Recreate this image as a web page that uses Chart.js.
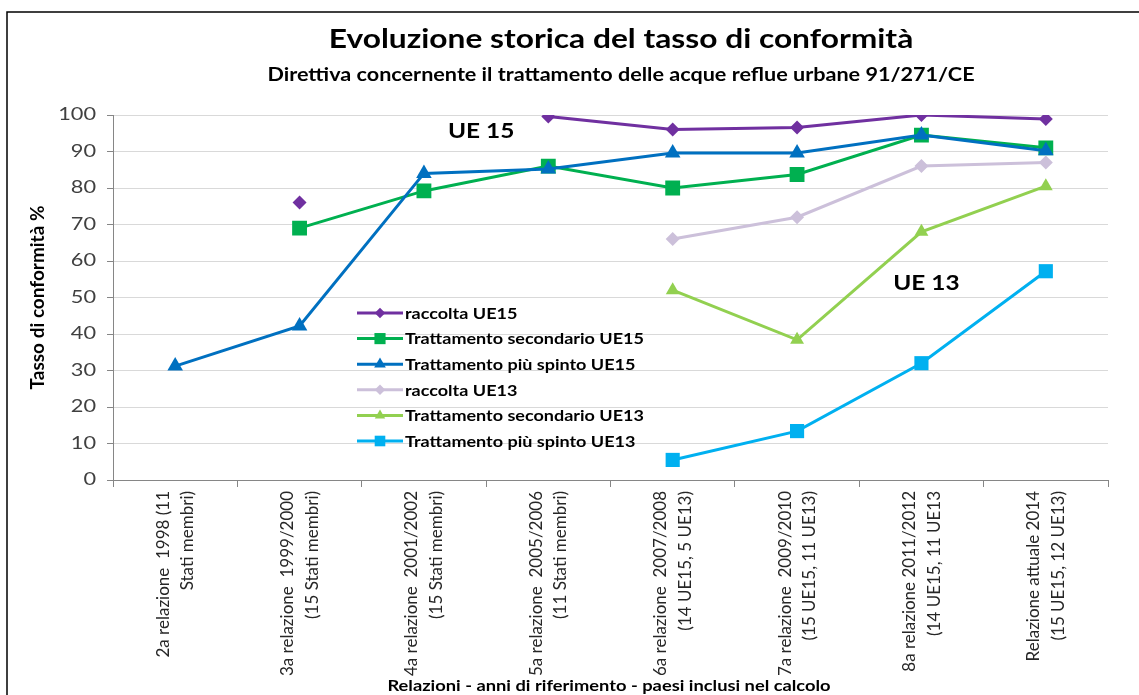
<!DOCTYPE html>
<html>
<head>
<meta charset="utf-8">
<script src="https://cdn.jsdelivr.net/npm/chart.js@4.4.1/dist/chart.umd.min.js"></script>
<style>
  html, body { margin: 0; padding: 0; background: #fff; }
  #wrap { width: 1139px; height: 695px; position: relative; }
</style>
</head>
<body>
<div id="wrap"><canvas id="chart" width="1139" height="695"></canvas></div>
<script>
// categories (rotated x labels, two lines each)
const relazioni = [
  ["2a relazione  1998 (11", "Stati membri)"],
  ["3a relazione  1999/2000", "(15 Stati membri)"],
  ["4a relazione  2001/2002", "(15 Stati membri)"],
  ["5a relazione  2005/2006", "(11 Stati membri)"],
  ["6a relazione  2007/2008", "(14 UE15, 5 UE13)"],
  ["7a relazione  2009/2010", "(15 UE15, 11 UE13)"],
  ["8a relazione 2011/2012", "(14 UE15, 11 UE13"],
  ["Relazione attuale 2014", "(15 UE15, 12 UE13)"]
];

// values (%)
const raccoltaUE15    = [null, 76, null, 99.6, 96, 96.6, 100, 98.9];
const secondarioUE15  = [null, 69, 79.2, 86, 80, 83.7, 94.5, 91];
const spintoUE15      = [31.2, 42.2, 84, 85.2, 89.6, 89.6, 94.5, 90.2];
const raccoltaUE13    = [null, null, null, null, 66, 72, 86, 87];
const secondarioUE13  = [null, null, null, null, 52, 38.4, 68, 80.5];
const spintoUE13      = [null, null, null, null, 5.5, 13.4, 32, 57.2];

const yTicks = [0, 10, 20, 30, 40, 50, 60, 70, 80, 90, 100];

const seriesNames = [
  "raccolta UE15",
  "Trattamento secondario UE15",
  "Trattamento più spinto UE15",
  "raccolta UE13",
  "Trattamento secondario UE13",
  "Trattamento più spinto UE13"
];
const seriesData = [raccoltaUE15, secondarioUE15, spintoUE15, raccoltaUE13, secondarioUE13, spintoUE13];
const seriesColors = ["#7030A0", "#00B050", "#0070C0", "#CCC0DA", "#92D050", "#00B0F0"];
const seriesStyles = ["rectRot", "rect", "triangle", "rectRot", "triangle", "rect"];
const seriesRadius = [7, 10.5, 9, 7, 8, 10];

const FONT = "Lato, 'DejaVu Sans', sans-serif";
const STRETCH = 1.22; // the source picture is stretched horizontally

function marker(ctx, style, x, y, r) {
  ctx.beginPath();
  if (style === "rect") {
    const s = r * Math.SQRT1_2;
    ctx.rect(x - s, y - s, 2 * s, 2 * s);
  } else if (style === "rectRot") {
    ctx.moveTo(x, y - r); ctx.lineTo(x + r, y); ctx.lineTo(x, y + r); ctx.lineTo(x - r, y);
    ctx.closePath();
  } else {
    ctx.moveTo(x, y - r);
    ctx.lineTo(x + r * Math.sin(2 * Math.PI / 3), y - r * Math.cos(2 * Math.PI / 3));
    ctx.lineTo(x + r * Math.sin(4 * Math.PI / 3), y - r * Math.cos(4 * Math.PI / 3));
    ctx.closePath();
  }
  ctx.fill();
}

// text drawn wider than the font, like the original
function wideText(ctx, text, x, y, sx) {
  ctx.save();
  ctx.translate(x, y);
  ctx.scale(sx, 1);
  ctx.fillText(text, 0, 0);
  ctx.restore();
}

// frame, titles, axis titles, y labels, "UE 15"/"UE 13", legend
const decorations = {
  id: "decorations",
  beforeDraw(chart) {
    const ctx = chart.ctx;
    ctx.save();
    ctx.fillStyle = "#fff";
    ctx.fillRect(0, 0, chart.width, chart.height);
    ctx.strokeStyle = "#000";
    ctx.lineWidth = 1.5;
    ctx.beginPath();
    ctx.moveTo(7, chart.height);
    ctx.lineTo(7, 12);
    ctx.lineTo(chart.width, 12);
    ctx.stroke();
    ctx.restore();
  },
  afterDraw(chart) {
    const ctx = chart.ctx;
    const area = chart.chartArea;
    const x = chart.scales.x, y = chart.scales.y;
    ctx.save();
    ctx.fillStyle = "#000";
    ctx.textAlign = "center";
    ctx.textBaseline = "middle";

    ctx.font = "bold 26px " + FONT;
    wideText(ctx, "Evoluzione storica del tasso di conformità", 621, 40, STRETCH);
    ctx.font = "bold 18px " + FONT;
    wideText(ctx, "Direttiva concernente il trattamento delle acque reflue urbane 91/271/CE", 621, 75, 1.2);

    ctx.font = "bold 15px " + FONT;
    wideText(ctx, "Relazioni - anni di riferimento - paesi inclusi nel calcolo", 609, 686, STRETCH);

    ctx.save();
    ctx.translate(38, (area.top + area.bottom) / 2);
    ctx.rotate(-Math.PI / 2);
    ctx.font = "bold 19px " + FONT;
    ctx.fillText("Tasso di conformità %", 0, 0);
    ctx.restore();

    // y tick labels
    ctx.textAlign = "right";
    ctx.fillStyle = "#404040";
    ctx.font = "17px " + FONT;
    yTicks.forEach(v => wideText(ctx, String(v), area.left - 17, y.getPixelForValue(v), 1.28));

    ctx.textAlign = "center";
    ctx.fillStyle = "#000";
    ctx.font = "bold 20px " + FONT;
    wideText(ctx, "UE 15", x.getPixelForValue(2.46), y.getPixelForValue(95.6), STRETCH);
    wideText(ctx, "UE 13", x.getPixelForValue(6.04), y.getPixelForValue(53.7), STRETCH);

    // legend inside the plot area
    ctx.textAlign = "left";
    ctx.font = "bold 15px " + FONT;
    const lx = area.left + 244, ly = area.top + 198, row = 25.6;
    seriesNames.forEach((name, i) => {
      const yy = ly + i * row;
      ctx.strokeStyle = seriesColors[i];
      ctx.fillStyle = seriesColors[i];
      ctx.lineWidth = 3;
      ctx.beginPath();
      ctx.moveTo(lx, yy);
      ctx.lineTo(lx + 46, yy);
      ctx.stroke();
      marker(ctx, seriesStyles[i], lx + 23, yy, seriesRadius[i] * 0.75);
      ctx.fillStyle = "#000";
      wideText(ctx, name, lx + 48, yy + 1, 1.2);
    });
    ctx.restore();
  }
};

new Chart(document.getElementById("chart"), {
  type: "line",
  data: {
    labels: relazioni,
    datasets: seriesNames.map((name, i) => ({
      label: name,
      data: seriesData[i],
      borderColor: seriesColors[i],
      backgroundColor: seriesColors[i],
      borderWidth: 3,
      pointStyle: seriesStyles[i],
      pointRadius: seriesRadius[i],
      pointBorderWidth: 0,
      pointBackgroundColor: seriesColors[i],
      tension: 0,
      spanGaps: false,
      order: 6 - i
    }))
  },
  options: {
    responsive: false,
    animation: false,
    layout: { padding: { left: 0, right: 31, top: 115, bottom: 0 } },
    plugins: {
      legend: { display: false },
      title: { display: false },
      tooltip: { enabled: false }
    },
    scales: {
      x: {
        type: "category",
        offset: true,
        afterFit: (s) => { s.height = 215; },
        grid: {
          offset: true,
          drawOnChartArea: false,
          drawTicks: true,
          tickLength: 7,
          tickColor: "#868686"
        },
        border: { color: "#868686", width: 1 },
        ticks: {
          autoSkip: false,
          maxRotation: 90,
          minRotation: 90,
          padding: 4,
          labelOffset: -12,
          color: "#262626",
          font: { family: FONT, size: 17, lineHeight: 1.45 }
        }
      },
      y: {
        min: 0,
        max: 100,
        afterFit: (s) => { s.width = 113; },
        afterBuildTicks: (s) => { s.ticks = yTicks.map(v => ({ value: v })); },
        grid: {
          color: "#d9d9d9",
          tickColor: "#868686",
          tickLength: 6
        },
        border: { color: "#868686", width: 1 },
        ticks: { display: false }
      }
    }
  },
  plugins: [decorations]
});
</script>
</body>
</html>
